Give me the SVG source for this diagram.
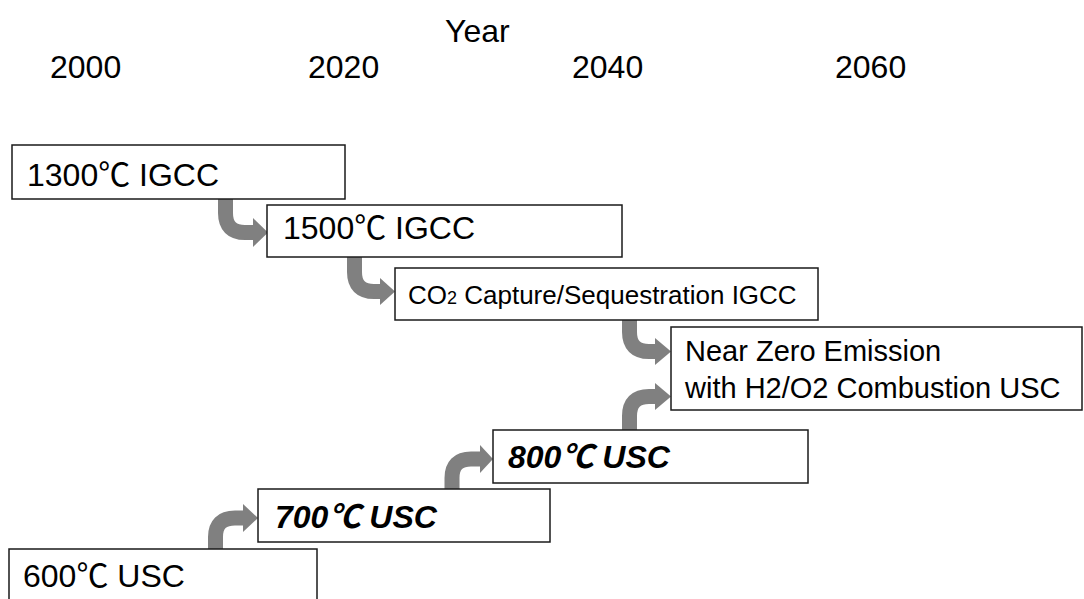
<svg xmlns="http://www.w3.org/2000/svg" width="1084" height="599" viewBox="0 0 1084 599">
<style>
.box{fill:#fff;stroke:#1a1a1a;stroke-width:1.5}
.t{font-family:"Liberation Sans",Arial,"Noto Sans CJK JP",sans-serif;fill:#000}
.big{font-size:32px}
.bi{font-size:32px;font-weight:bold;font-style:italic}
.shaft{fill:none;stroke:#808080;stroke-width:15}
.head{fill:#808080}
</style>
<g id="axis">
<text class="t big" x="445" y="42">Year</text>
<text class="t big" x="50" y="78">2000</text>
<text class="t big" x="308" y="78">2020</text>
<text class="t big" x="572" y="78">2040</text>
<text class="t big" x="835" y="78">2060</text>
</g>
<g id="connectors">
<path class="shaft" d="M225.5 199 V213 Q225.5 232.5 245 232.5 H254"/>
<polygon class="head" points="253,218 268,232.5 253,247"/>
<path class="shaft" d="M354.5 257 V272 Q354.5 291.5 374 291.5 H381"/>
<polygon class="head" points="380,278 395,291.5 380,305"/>
<path class="shaft" d="M629.5 320 V332 Q629.5 351.5 649 351.5 H656"/>
<polygon class="head" points="655,338 671,351.5 655,365"/>
<path class="shaft" d="M629.5 430 V416 Q629.5 396.5 649 396.5 H656"/>
<polygon class="head" points="655,383 671,396.5 655,410"/>
<path class="shaft" d="M452 489 V478 Q452 459 471 459 H481"/>
<polygon class="head" points="480,445 493,459 480,473"/>
<path class="shaft" d="M215.5 553 V537 Q215.5 518 235 518 H244"/>
<polygon class="head" points="243,504 258,518 243,532"/>
</g>
<g id="n1300">
<rect class="box" x="12" y="145" width="333" height="54"/>
<text class="t big" x="27" y="186">1300℃ IGCC</text>
</g>
<g id="n1500">
<rect class="box" x="267" y="205" width="355" height="52"/>
<text class="t big" x="283" y="239">1500℃ IGCC</text>
</g>
<g id="nco2">
<rect class="box" x="395" y="268" width="423" height="52"/>
<text class="t" x="408" y="304" font-size="26">CO<tspan font-size="18">2</tspan> Capture/Sequestration IGCC</text>
</g>
<g id="nzero">
<rect class="box" x="671" y="327" width="411" height="83"/>
<text class="t" font-size="29"><tspan x="685" y="361">Near Zero Emission</tspan><tspan x="685" y="398">with H2/O2 Combustion USC</tspan></text>
</g>
<g id="n800">
<rect class="box" x="493" y="430" width="315" height="53"/>
<text class="t bi" x="508" y="468">800℃ USC</text>
</g>
<g id="n700">
<rect class="box" x="258" y="489" width="292" height="53"/>
<text class="t bi" x="275" y="528">700℃ USC</text>
</g>
<g id="n600">
<rect class="box" x="9" y="549" width="308" height="60"/>
<text class="t big" x="23" y="587">600℃ USC</text>
</g>
</svg>
